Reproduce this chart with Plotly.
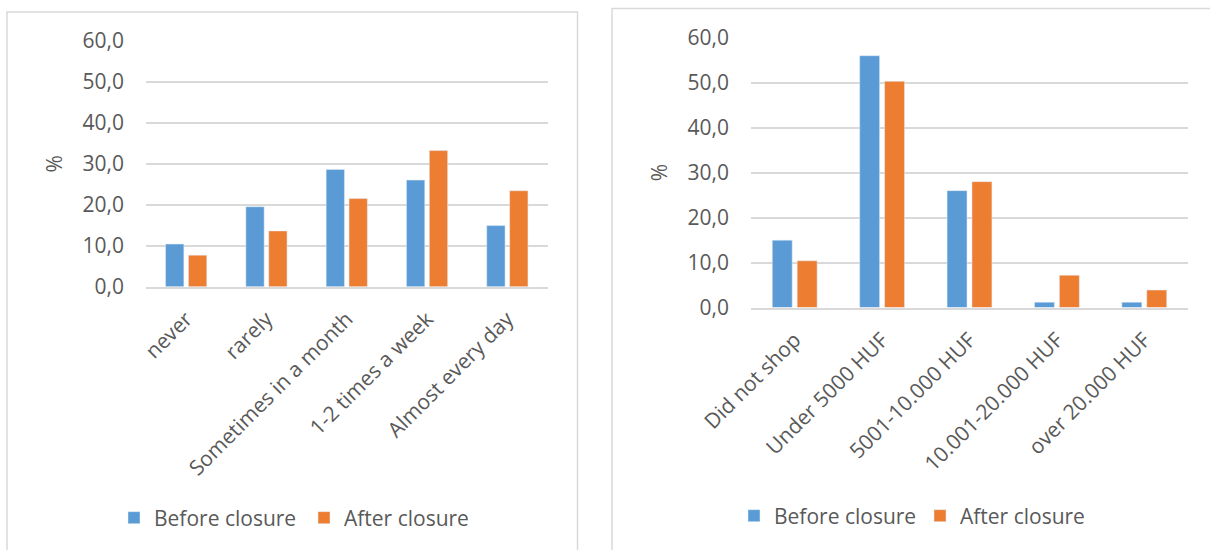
import plotly.graph_objects as go

# ---- data ----
freq_categories = ["never", "rarely", "Sometimes in a month", "1-2 times a week", "Almost every day"]
freq_before = [10.4, 19.5, 28.6, 26.0, 14.9]
freq_after = [7.7, 13.6, 21.5, 33.2, 23.4]

spend_categories = ["Did not shop", "Under 5000 HUF", "5001-10.000 HUF", "10.001-20.000 HUF", "over 20.000 HUF"]
spend_before = [15.0, 56.0, 26.0, 1.2, 1.2]
spend_after = [10.4, 50.3, 28.0, 7.2, 3.9]

series_names = ["Before closure", "After closure"]
y_tickvals = [0, 10, 20, 30, 40, 50, 60]

BLUE = "#5B9BD5"
ORANGE = "#ED7D31"
TXT = "#595959"
GRID = "#D9D9D9"
FONT = "Open Sans"
W, H = 1210, 550

fig = go.Figure()

fig.add_trace(go.Bar(x=freq_categories, y=freq_before, name=series_names[0], marker_color=BLUE,
                     xaxis="x", yaxis="y", legend="legend"))
fig.add_trace(go.Bar(x=freq_categories, y=freq_after, name=series_names[1], marker_color=ORANGE,
                     xaxis="x", yaxis="y", legend="legend"))
fig.add_trace(go.Bar(x=spend_categories, y=spend_before, name=series_names[0], marker_color=BLUE,
                     xaxis="x2", yaxis="y2", legend="legend2"))
fig.add_trace(go.Bar(x=spend_categories, y=spend_after, name=series_names[1], marker_color=ORANGE,
                     xaxis="x2", yaxis="y2", legend="legend2"))

def px_x(v):
    return v / W

def px_y(v):
    return (H - v) / H

axis_font = dict(family=FONT, size=21, color=TXT)

common_y = dict(range=[0, 60], tickvals=y_tickvals, tickformat=".1f", showgrid=True, gridcolor=GRID,
                gridwidth=1.5, zeroline=False, showline=False, tickfont=axis_font, ticks="",
                ticklabelstandoff=21, automargin=False, fixedrange=True,
                title=dict(text="%", font=axis_font, standoff=14))
common_x = dict(tickangle=-45, tickfont=axis_font, showline=True, linecolor=GRID, linewidth=1.5,
                ticks="", automargin=False, ticklabelstandoff=10, fixedrange=True)

fig.update_layout(
    width=W, height=H,
    margin=dict(l=0, r=0, t=0, b=0),
    paper_bgcolor="white", plot_bgcolor="white",
    separators=", ",
    barmode="group", bargap=0.43, bargroupgap=0.2,
    font=dict(family=FONT, color=TXT, size=21),
    xaxis=dict(domain=[px_x(146), px_x(547.5)], anchor="y", **common_x),
    yaxis=dict(domain=[px_y(286.7), px_y(40.7)], anchor="x", **common_y),
    xaxis2=dict(domain=[px_x(751), px_x(1188)], anchor="y2", **common_x),
    yaxis2=dict(domain=[px_y(307.6), px_y(37.7)], anchor="x2", **common_y),
    legend=dict(orientation="h", x=px_x(114), xanchor="left", y=px_y(518), yanchor="middle",
                font=axis_font, entrywidth=145, entrywidthmode="pixels", bgcolor="rgba(0,0,0,0)"),
    legend2=dict(orientation="h", x=px_x(734), xanchor="left", y=px_y(516), yanchor="middle",
                 font=axis_font, entrywidth=141, entrywidthmode="pixels", bgcolor="rgba(0,0,0,0)"),
    shapes=[
        dict(type="rect", xref="paper", yref="paper", x0=px_x(7), x1=px_x(577.5), y0=px_y(600), y1=px_y(12),
             line=dict(color=GRID, width=1.5), fillcolor="rgba(0,0,0,0)", layer="below"),
        dict(type="rect", xref="paper", yref="paper", x0=px_x(612), x1=px_x(1300), y0=px_y(600), y1=px_y(8.5),
             line=dict(color=GRID, width=1.5), fillcolor="rgba(0,0,0,0)", layer="below"),
    ],
)

fig.write_html("out.html")
